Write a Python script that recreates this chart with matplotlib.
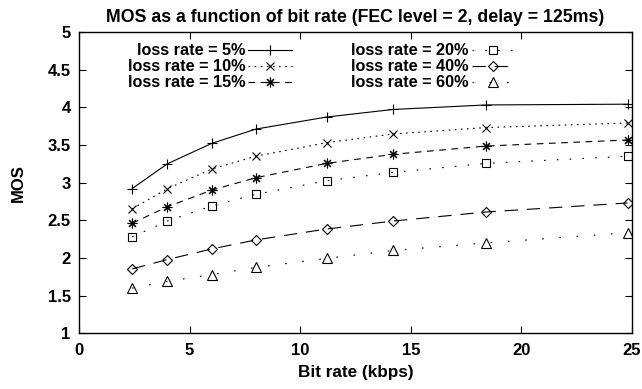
import matplotlib
matplotlib.use("Agg")
from matplotlib import pyplot as plt

plt.rcParams['font.family'] = ['Liberation Sans', 'DejaVu Sans']
plt.rcParams['font.weight'] = 'bold'

# bit rate (kbps)
bit_rate = [2.4, 4.0, 6.0, 8.0, 11.2, 14.2, 18.4, 24.8]

# MOS for each loss rate
mos_5 = [2.92, 3.25, 3.52, 3.71, 3.87, 3.97, 4.03, 4.04]
mos_10 = [2.65, 2.92, 3.18, 3.35, 3.53, 3.645, 3.73, 3.79]
mos_15 = [2.46, 2.68, 2.90, 3.065, 3.255, 3.375, 3.485, 3.565]
mos_20 = [2.28, 2.49, 2.69, 2.845, 3.025, 3.135, 3.255, 3.35]
mos_40 = [1.855, 1.98, 2.12, 2.24, 2.385, 2.49, 2.61, 2.73]
mos_60 = [1.60, 1.69, 1.78, 1.875, 1.995, 2.10, 2.20, 2.335]

labels = ["loss rate = 5%", "loss rate = 10%", "loss rate = 15%",
          "loss rate = 20%", "loss rate = 40%", "loss rate = 60%"]

x_ticks = [0, 5, 10, 15, 20, 25]
y_ticks = [1, 1.5, 2, 2.5, 3, 3.5, 4, 4.5, 5]
y_tick_labels = ["1", "1.5", "2", "2.5", "3", "3.5", "4", "4.5", "5"]

fig = plt.figure(figsize=(6.42, 3.89), dpi=100)
ax = fig.add_axes([79/642, 1 - 333.4/389, 553/642, 301.6/389])

lw = 0.8
ax.plot(bit_rate, mos_5, color='black', lw=lw, linestyle='-',
        marker='+', markersize=7, markeredgewidth=0.8, label=labels[0])
ax.plot(bit_rate, mos_10, color='black', lw=lw, linestyle=(0, (1.5, 4)),
        marker='x', markersize=6, markeredgewidth=0.8, label=labels[1])
ax.plot(bit_rate, mos_15, color='black', lw=lw, linestyle=(0, (6, 5)),
        marker=(8, 2, 0), markersize=7, markeredgewidth=0.8, label=labels[2])
ax.plot(bit_rate, mos_20, color='black', lw=lw, linestyle=(0, (1.5, 10)),
        marker='s', markersize=6, markeredgewidth=0.8, fillstyle='none', label=labels[3])
ax.plot(bit_rate, mos_40, color='black', lw=lw, linestyle=(0, (12, 8)),
        marker='D', markersize=5, markeredgewidth=0.8, fillstyle='none', label=labels[4])
ax.plot(bit_rate, mos_60, color='black', lw=lw, linestyle=(0, (1.5, 14)),
        marker='^', markersize=7, markeredgewidth=0.8, fillstyle='none', label=labels[5])

ax.set_xlim(0, 25)
ax.set_ylim(1, 5)
ax.set_xticks(x_ticks)
ax.set_yticks(y_ticks)
ax.set_yticklabels(y_tick_labels)
ax.tick_params(direction='in', top=True, right=True, length=5, width=0.8,
               labelsize=12)
ax.tick_params(axis='x', pad=7)
ax.tick_params(axis='y', pad=6)
for s in ax.spines.values():
    s.set_linewidth(1.0)

ax.set_xlabel("Bit rate (kbps)", fontsize=12.3, fontweight='bold')
ax.xaxis.set_label_coords(0.5, -0.105)
ax.set_ylabel("MOS", fontsize=12, fontweight='bold')
ax.yaxis.set_label_coords(-0.096, 0.5)
ax.set_title("MOS as a function of bit rate (FEC level = 2, delay = 125ms)",
             fontsize=12.8, fontweight='bold', pad=7)

ax.legend(loc='upper left', bbox_to_anchor=(0.088, 0.962), ncol=2,
          frameon=False, markerfirst=False, handlelength=2.7,
          handletextpad=0.2, columnspacing=3.6, labelspacing=0.06,
          borderpad=0, borderaxespad=0,
          prop={'size': 11.7, 'weight': 'bold'})

fig.savefig("out.png", dpi=100)
